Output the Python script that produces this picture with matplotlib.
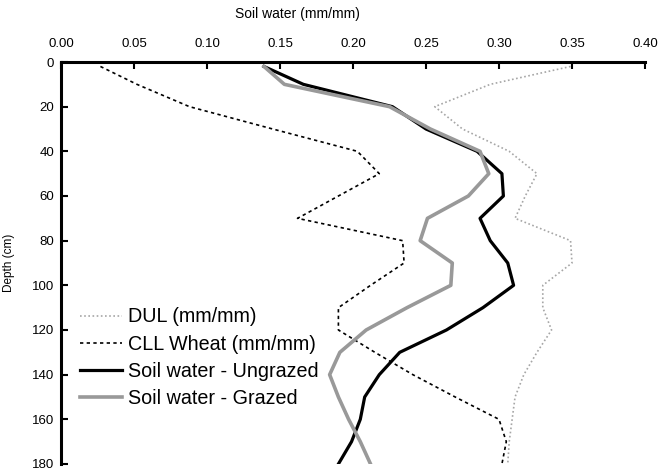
import matplotlib
matplotlib.use("Agg")
import matplotlib.pyplot as plt

# -------------------------------
# Data
# -------------------------------
depth = [2, 10, 20, 30, 40, 50, 60, 70, 80, 90, 100, 110, 120, 130, 140, 150, 160, 170, 180]

dul = [0.349, 0.294, 0.256, 0.275, 0.307, 0.326, 0.318, 0.311, 0.349, 0.350, 0.330,
       0.330, 0.336, 0.326, 0.317, 0.311, 0.309, 0.307, 0.306]
cll_wheat = [0.027, 0.052, 0.088, 0.145, 0.203, 0.218, 0.190, 0.162, 0.234, 0.235, 0.212,
             0.190, 0.190, 0.215, 0.241, 0.270, 0.300, 0.305, 0.302]
sw_ungrazed = [0.139, 0.166, 0.227, 0.250, 0.285, 0.302, 0.303, 0.287, 0.294, 0.306, 0.310,
               0.289, 0.264, 0.232, 0.218, 0.208, 0.205, 0.199, 0.190]
sw_grazed = [0.139, 0.153, 0.225, 0.253, 0.287, 0.293, 0.279, 0.251, 0.246, 0.268, 0.267,
             0.237, 0.209, 0.191, 0.184, 0.190, 0.197, 0.205, 0.212]

x_ticks = [0.00, 0.05, 0.10, 0.15, 0.20, 0.25, 0.30, 0.35, 0.40]
y_ticks = [0, 20, 40, 60, 80, 100, 120, 140, 160, 180]

plt.rcParams["font.family"] = ["Liberation Sans", "DejaVu Sans"]

fig = plt.figure(figsize=(6.58, 4.72), dpi=100)
ax = fig.add_axes([61 / 658, 1 - 464 / 472, (645 - 61) / 658, (464 - 62) / 472])

ax.plot(dul, depth, color="#a6a6a6", lw=1.2, linestyle=(0, (1, 1.5)), label="DUL (mm/mm)")
ax.plot(cll_wheat, depth, color="black", lw=1.2, linestyle=(0, (2, 2)), label="CLL Wheat (mm/mm)")
ax.plot(sw_ungrazed, depth, color="black", lw=2.3, label="Soil water - Ungrazed")
ax.plot(sw_grazed, depth, color="#999999", lw=2.6, label="Soil water - Grazed")

ax.set_xlim(0, 0.40)
ax.set_ylim(180, 0)
ax.set_xticks(x_ticks)
ax.set_xticklabels([f"{v:.2f}" for v in x_ticks])
ax.set_yticks(y_ticks)

ax.xaxis.tick_top()
ax.xaxis.set_label_position("top")
ax.set_xlabel("Soil water (mm/mm)", fontsize=10)
ax.xaxis.set_label_coords(0.405, 1.11)
ax.set_ylabel("Depth (cm)", fontsize=8.5, labelpad=12)

ax.spines["right"].set_visible(False)
ax.spines["bottom"].set_visible(False)
ax.spines["top"].set_linewidth(2.2)
ax.spines["left"].set_linewidth(2.2)
ax.tick_params(axis="both", direction="in", length=5, width=1.5, labelsize=9.5, pad=5)
ax.tick_params(axis="x", pad=9)

ax.legend(loc="center left", bbox_to_anchor=(0.019, 0.264), frameon=False, fontsize=14.2,
          handlelength=2.15, handletextpad=0.3, labelspacing=0.42, borderaxespad=0.0,
          borderpad=0.4)

fig.savefig("out.png", dpi=100)
